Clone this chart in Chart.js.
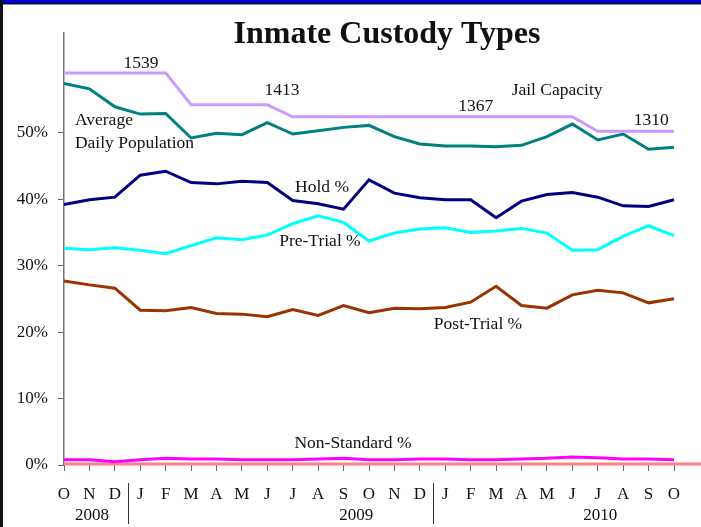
<!DOCTYPE html>
<html>
<head>
<meta charset="utf-8">
<script src="https://cdn.jsdelivr.net/npm/chart.js@4"></script>
<style>
  html, body { margin: 0; padding: 0; background: #fff; }
  #wrap { width: 701px; height: 527px; }
</style>
</head>
<body>
<div id="wrap"><canvas id="c" width="701" height="527"></canvas></div>
<script>
// Oct 2008 .. Oct 2010
const months = ['O','N','D','J','F','M','A','M','J','J','A','S','O','N','D','J','F','M','A','M','J','J','A','S','O'];

const jailCapacity = [59.0,59.0,59.0,59.0,59.0,54.2,54.2,54.2,54.2,52.4,52.4,52.4,52.4,52.4,52.4,52.4,52.4,52.4,52.4,52.4,52.4,50.2,50.2,50.2,50.2];
const avgDailyPop  = [57.4,56.6,53.9,52.8,52.9,49.2,49.9,49.7,51.5,49.8,50.3,50.8,51.1,49.4,48.3,48.0,48.0,47.9,48.1,49.4,51.3,48.9,49.8,47.5,47.8];
const holdPct      = [39.2,39.9,40.3,43.6,44.2,42.5,42.3,42.7,42.5,39.8,39.3,38.5,42.9,40.9,40.2,39.9,39.9,37.2,39.7,40.7,41.0,40.3,39.0,38.9,39.9];
const preTrialPct  = [32.6,32.4,32.7,32.3,31.8,33.0,34.2,33.9,34.6,36.3,37.5,36.5,33.7,34.9,35.5,35.7,35.0,35.2,35.6,34.9,32.3,32.4,34.4,36.0,34.5];
const postTrialPct = [27.7,27.1,26.6,23.3,23.2,23.7,22.8,22.7,22.3,23.4,22.5,24.0,22.9,23.6,23.5,23.7,24.5,26.9,24.0,23.6,25.6,26.3,25.9,24.4,25.0];
const nonStdPct    = [0.8,0.8,0.5,0.8,1.0,0.9,0.9,0.8,0.8,0.8,0.9,1.0,0.8,0.8,0.9,0.9,0.8,0.8,0.9,1.0,1.2,1.1,0.9,0.9,0.8];

const yTicks = [0, 10, 20, 30, 40, 50];

const years = [
  { text: '2008', at: 1.1 },
  { text: '2009', at: 11.5 },
  { text: '2010', at: 21.1 }
];
const yearBreaks = [2.5, 14.5];

// in-chart labels, placed in data units (category index, percent)
const notes = [
  { text: '1539', at: 3.03, v: 60.5, align: 'center' },
  { text: '1413', at: 8.58, v: 56.4, align: 'center' },
  { text: '1367', at: 16.2, v: 53.9, align: 'center' },
  { text: '1310', at: 23.1, v: 51.8, align: 'center' },
  { text: 'Jail Capacity', at: 19.4, v: 56.3, align: 'center' },
  { text: 'Average', at: 0.43, v: 51.9, align: 'left' },
  { text: 'Daily Population', at: 0.43, v: 48.4, align: 'left' },
  { text: 'Hold %', at: 10.15, v: 41.7, align: 'center' },
  { text: 'Pre-Trial %', at: 10.07, v: 33.6, align: 'center' },
  { text: 'Post-Trial %', at: 16.29, v: 21.2, align: 'center' },
  { text: 'Non-Standard %', at: 11.37, v: 3.3, align: 'center' }
];

const serif = '"Liberation Serif", "Times New Roman", serif';

const line = (data, color) => ({
  data,
  borderColor: color,
  borderWidth: 3,
  pointRadius: 0,
  tension: 0,
  fill: false
});

const decor = {
  id: 'decor',
  beforeDatasetsDraw(chart) {
    const { ctx, chartArea: a } = chart;
    ctx.save();
    ctx.strokeStyle = '#FF8080';
    ctx.lineWidth = 3;
    ctx.beginPath();
    ctx.moveTo(a.left, a.bottom - 1);
    ctx.lineTo(chart.width, a.bottom - 1);
    ctx.stroke();
    ctx.restore();
  },
  afterDraw(chart) {
    const { ctx } = chart;
    const x = chart.scales.x, y = chart.scales.y;
    ctx.save();
    ctx.fillStyle = '#111';
    ctx.textBaseline = 'middle';

    ctx.font = 'bold 32px ' + serif;
    ctx.textAlign = 'center';
    ctx.fillText('Inmate Custody Types', 387, 35);

    ctx.font = '17.5px ' + serif;
    notes.forEach(n => {
      ctx.textAlign = n.align;
      ctx.fillText(n.text, x.getPixelForValue(n.at), y.getPixelForValue(n.v));
    });

    ctx.font = '17px ' + serif;
    ctx.textAlign = 'center';
    years.forEach(yr => ctx.fillText(yr.text, x.getPixelForValue(yr.at), 516));

    ctx.strokeStyle = '#333';
    ctx.lineWidth = 1;
    yearBreaks.forEach(b => {
      const px = Math.round(x.getPixelForValue(b)) + 0.5;
      ctx.beginPath();
      ctx.moveTo(px, 483);
      ctx.lineTo(px, 524);
      ctx.stroke();
    });

    // frame
    ctx.fillStyle = '#0000E0';
    ctx.fillRect(0, 0, chart.width, 3);
    ctx.fillStyle = '#111';
    ctx.fillRect(0, 3, chart.width, 1.5);
    ctx.fillRect(0, 0, 3, chart.height);
    ctx.restore();
  }
};

new Chart(document.getElementById('c'), {
  type: 'line',
  data: {
    labels: months,
    datasets: [
      line(jailCapacity, '#CC99FF'),
      line(avgDailyPop, '#008080'),
      line(holdPct, '#000080'),
      line(preTrialPct, '#00FFFF'),
      line(postTrialPct, '#993300'),
      line(nonStdPct, '#FF00FF')
    ]
  },
  options: {
    responsive: false,
    animation: false,
    layout: { padding: { top: 33, right: 27, left: 0, bottom: 0 } },
    plugins: {
      legend: { display: false },
      tooltip: { enabled: false },
      title: { display: false }
    },
    scales: {
      x: {
        offset: false,
        grid: { drawOnChartArea: false, color: '#666', tickLength: 6, lineWidth: 1 },
        border: { display: false },
        ticks: {
          autoSkip: false,
          maxRotation: 0,
          padding: 13,
          color: '#111',
          font: { family: serif, size: 17 }
        },
        afterFit: s => { s.height = 62; }
      },
      y: {
        min: 0,
        max: 65,
        afterBuildTicks: s => { s.ticks = yTicks.map(v => ({ value: v })); },
        grid: { drawOnChartArea: false, color: '#666', tickLength: 6 },
        border: { display: true, color: '#777', width: 1.5 },
        ticks: {
          padding: 10,
          color: '#111',
          font: { family: serif, size: 17 },
          callback: v => v + '%'
        },
        afterFit: s => { s.width = 64; }
      }
    }
  },
  plugins: [decor]
});
</script>
</body>
</html>
